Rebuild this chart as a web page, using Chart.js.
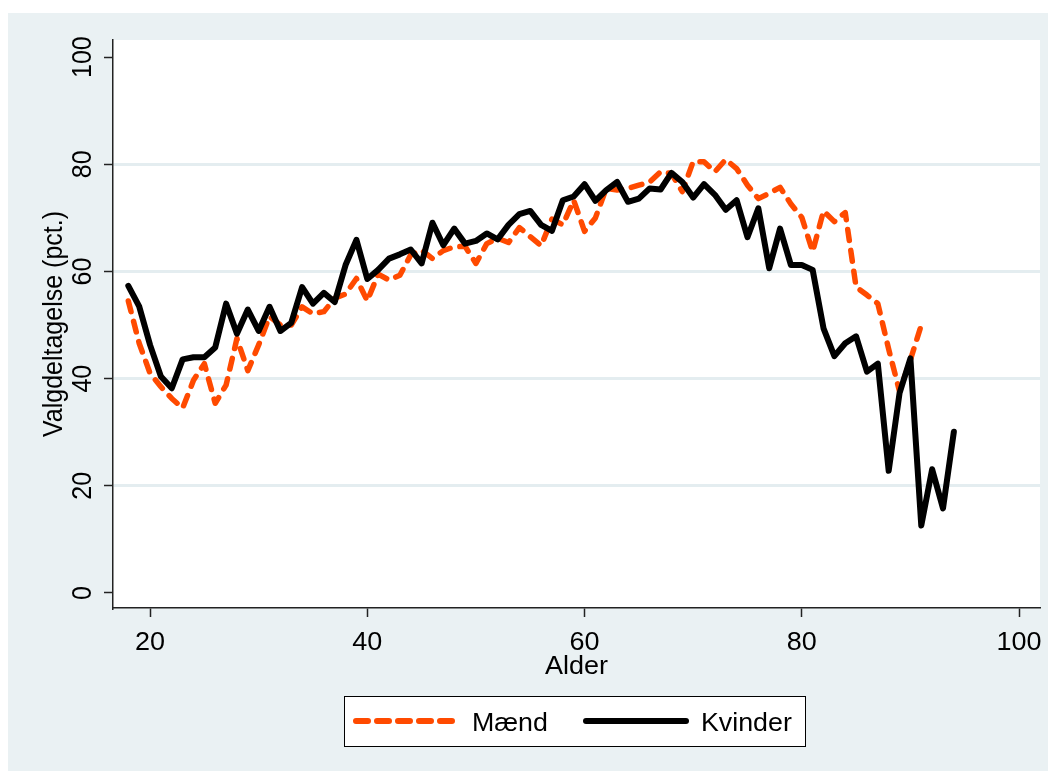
<!DOCTYPE html>
<html>
<head>
<meta charset="utf-8">
<script src="https://cdn.jsdelivr.net/npm/chart.js@4/dist/chart.umd.min.js"></script>
<style>
  html, body { margin: 0; padding: 0; background: #fff; }
  canvas { display: block; }
</style>
</head>
<body>
<canvas id="valgChart" width="1053" height="774"></canvas>
<script>
// Valgdeltagelse fordelt på alder og køn
const alder = [18, 19, 20, 21, 22, 23, 24, 25, 26, 27, 28, 29, 30, 31, 32, 33, 34, 35, 36, 37,
  38, 39, 40, 41, 42, 43, 44, 45, 46, 47, 48, 49, 50, 51, 52, 53, 54, 55, 56, 57,
  58, 59, 60, 61, 62, 63, 64, 65, 66, 67, 68, 69, 70, 71, 72, 73, 74, 75, 76, 77,
  78, 79, 80, 81, 82, 83, 84, 85, 86, 87, 88, 89, 90, 91, 92, 93, 94];

const maend = [54.5, 46.6, 41.0, 38.5, 36.3, 34.5, 39.7, 42.8, 35.4, 38.8, 47.5, 41.5, 46.3, 51.6,
  50.0, 50.0, 53.4, 52.1, 52.5, 55.0, 55.8, 58.7, 54.5, 59.5, 58.4, 59.3, 63.1, 64.0, 62.4, 63.9,
  64.6, 64.7, 61.5, 65.2, 66.2, 65.4, 68.2, 66.5, 64.8, 69.8, 68.7, 73.3, 67.5, 70.0, 75.5, 75.2,
  75.5, 76.1, 76.7, 78.6, 78.3, 74.9, 80.5, 80.5, 78.6, 80.9, 79.2, 76.1, 73.6, 74.6, 75.7, 72.6,
  70.1, 63.7, 71.3, 69.3, 71.0, 57.1, 55.6, 54.0, 45.5, 37.6, 43.5, 50.0];

const kvinder = [57.3, 53.5, 46.3, 40.4, 38.2, 43.6, 44.0, 44.0, 45.8, 54.0, 48.4, 52.9, 48.9, 53.4,
  48.9, 50.4, 57.1, 54.0, 56.0, 54.3, 61.2, 65.9, 58.6, 60.3, 62.4, 63.2, 64.1, 61.5, 69.1, 64.9,
  68.0, 65.2, 65.7, 67.1, 66.0, 68.7, 70.7, 71.3, 68.7, 67.6, 73.3, 74.0, 76.3, 73.2, 75.2, 76.7,
  73.0, 73.6, 75.5, 75.3, 78.4, 76.7, 73.8, 76.3, 74.3, 71.5, 73.3, 66.4, 71.8, 60.6, 68.0, 61.2,
  61.2, 60.3, 49.4, 44.2, 46.6, 47.9, 41.3, 42.8, 22.8, 37.3, 43.8, 12.6, 23.1, 15.8, 30.1];

const xTicks = [20, 40, 60, 80, 100];
const yTicks = [0, 20, 40, 60, 80, 100];

const ORANGE = '#ff4a00';
const PANEL = '#eaf1f3';
const GRID = '#e4edf0';

function points(values) {
  return values.map((v, i) => ({ x: alder[i], y: v }));
}

// text helper: slight horizontal stretch like the original export
function tekst(ctx, s, x, y, opts) {
  opts = opts || {};
  ctx.save();
  ctx.translate(x, y);
  ctx.scale(opts.sx || 1.08, 1);
  if (opts.rot) ctx.rotate(-Math.PI / 2);
  ctx.font = (opts.size || 25) + 'px "Liberation Sans", Arial, sans-serif';
  ctx.fillStyle = '#000';
  ctx.textAlign = opts.align || 'center';
  ctx.textBaseline = 'alphabetic';
  ctx.fillText(s, 0, 0);
  ctx.restore();
}

const rammePlugin = {
  id: 'ramme',
  beforeDraw(chart) {
    const ctx = chart.ctx;
    const a = chart.chartArea;
    ctx.save();
    ctx.fillStyle = '#fff';
    ctx.fillRect(0, 0, chart.width, chart.height);
    ctx.fillStyle = PANEL;
    ctx.fillRect(8, 13, 1040, 758);
    ctx.fillStyle = '#fff';
    ctx.fillRect(a.left, a.top, a.right - a.left, a.bottom - a.top);
    ctx.restore();
  },
  afterDraw(chart) {
    const ctx = chart.ctx;
    const xs = chart.scales.x;
    const ys = chart.scales.y;
    const a = chart.chartArea;

    xTicks.forEach(v => tekst(ctx, String(v), xs.getPixelForValue(v), 650));
    tekst(ctx, 'Alder', (a.left + a.right) / 2, 674);

    yTicks.forEach(v => tekst(ctx, String(v), 91, ys.getPixelForValue(v), { rot: true }));
    tekst(ctx, 'Valgdeltagelse (pct.)', 62, (a.top + a.bottom) / 2, { rot: true });

    // legend
    ctx.save();
    ctx.fillStyle = '#fff';
    ctx.fillRect(344, 696, 461, 50);
    ctx.strokeStyle = '#000';
    ctx.lineWidth = 1;
    ctx.strokeRect(344.5, 696.5, 461, 50);

    ctx.lineWidth = 6;
    ctx.lineCap = 'round';
    ctx.strokeStyle = ORANGE;
    ctx.setLineDash([12, 9]);
    ctx.beginPath();
    ctx.moveTo(356, 721);
    ctx.lineTo(456, 721);
    ctx.stroke();

    ctx.setLineDash([]);
    ctx.strokeStyle = '#000';
    ctx.beginPath();
    ctx.moveTo(586, 721);
    ctx.lineTo(686, 721);
    ctx.stroke();
    ctx.restore();

    tekst(ctx, 'Mænd', 472, 731, { align: 'left', size: 26, sx: 1.03 });
    tekst(ctx, 'Kvinder', 701, 731, { align: 'left', size: 26, sx: 1.03 });
  }
};

const ctx = document.getElementById('valgChart').getContext('2d');

new Chart(ctx, {
  type: 'line',
  data: {
    datasets: [
      {
        label: 'Mænd',
        data: points(maend),
        borderColor: ORANGE,
        borderWidth: 5.5,
        borderDash: [11, 10],
        borderCapStyle: 'round',
        borderJoinStyle: 'round',
        pointRadius: 0,
        tension: 0,
        fill: false,
        order: 2
      },
      {
        label: 'Kvinder',
        data: points(kvinder),
        borderColor: '#000',
        borderWidth: 6,
        borderCapStyle: 'round',
        borderJoinStyle: 'round',
        pointRadius: 0,
        tension: 0,
        fill: false,
        order: 1
      }
    ]
  },
  options: {
    responsive: false,
    animation: false,
    layout: { padding: { left: 8, right: 13, top: 40, bottom: 0 } },
    plugins: {
      legend: { display: false },
      tooltip: { enabled: false },
      title: { display: false }
    },
    scales: {
      x: {
        type: 'linear',
        min: 16.59,
        max: 101.93,
        afterBuildTicks: scale => { scale.ticks = xTicks.map(v => ({ value: v })); },
        afterFit: scale => { scale.height = 166; },
        ticks: { display: false },
        grid: { drawOnChartArea: false, drawTicks: true, tickLength: 9, tickColor: '#222', tickWidth: 1.5 },
        border: { display: true, color: '#222', width: 1.5 }
      },
      y: {
        type: 'linear',
        min: -2.8,
        max: 103.2,
        afterBuildTicks: scale => { scale.ticks = yTicks.map(v => ({ value: v })); },
        afterFit: scale => { scale.width = 105; },
        ticks: { display: false },
        grid: {
          color: c => (c.tick && c.tick.value > 0 && c.tick.value < 100) ? GRID : 'rgba(0,0,0,0)',
          lineWidth: 3,
          drawTicks: true,
          tickLength: 9,
          tickColor: '#222',
          tickWidth: 1.5
        },
        border: { display: true, color: '#222', width: 1.5 }
      }
    }
  },
  plugins: [rammePlugin]
});
</script>
</body>
</html>
